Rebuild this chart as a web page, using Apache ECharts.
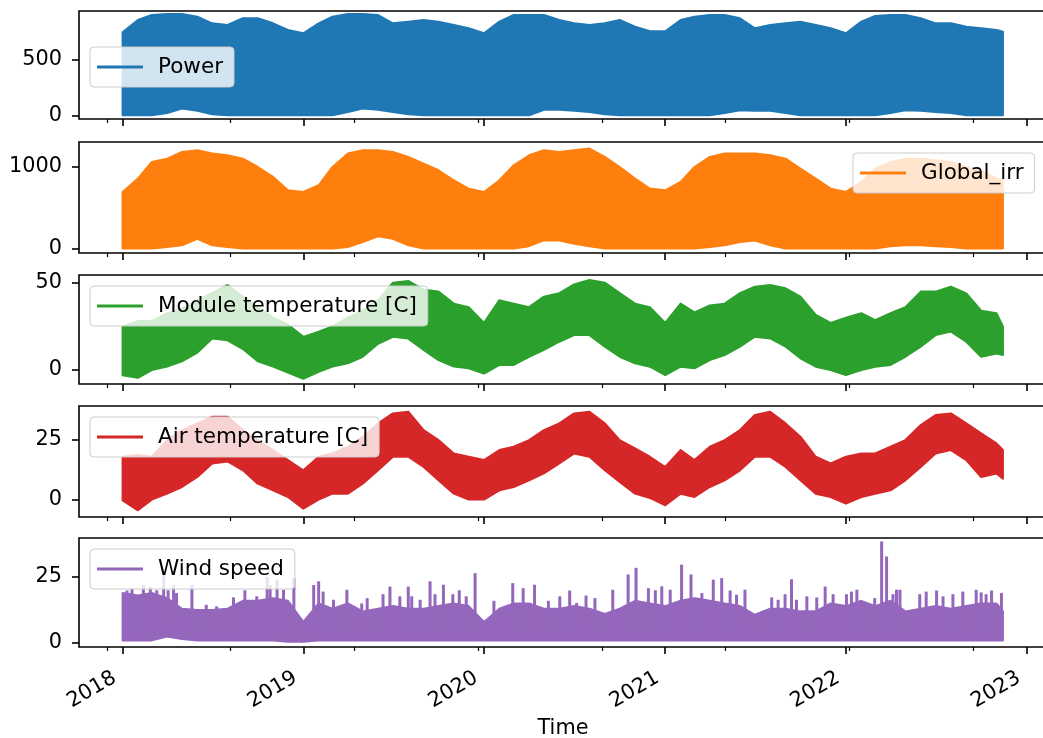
<!DOCTYPE html>
<html><head><meta charset="utf-8">
<script src="https://cdn.jsdelivr.net/npm/echarts@6/dist/echarts.min.js"></script>
<style>html,body{margin:0;padding:0;background:#fff}#c{width:1043px;height:738px}</style>
</head><body><div id="c"></div>
<script>
// ---- sample dates (month starts + last timestamp) ----
const sampleDates = [
 '2018-01-01','2018-02-01','2018-03-01','2018-04-01','2018-05-01','2018-06-01','2018-07-01','2018-08-01','2018-09-01','2018-10-01','2018-11-01','2018-12-01',
 '2019-01-01','2019-02-01','2019-03-01','2019-04-01','2019-05-01','2019-06-01','2019-07-01','2019-08-01','2019-09-01','2019-10-01','2019-11-01','2019-12-01',
 '2020-01-01','2020-02-01','2020-03-01','2020-04-01','2020-05-01','2020-06-01','2020-07-01','2020-08-01','2020-09-01','2020-10-01','2020-11-01','2020-12-01',
 '2021-01-01','2021-02-01','2021-03-01','2021-04-01','2021-05-01','2021-06-01','2021-07-01','2021-08-01','2021-09-01','2021-10-01','2021-11-01','2021-12-01',
 '2022-01-01','2022-02-01','2022-03-01','2022-04-01','2022-05-01','2022-06-01','2022-07-01','2022-08-01','2022-09-01','2022-10-01','2022-11-01','2022-11-14'
];
// ---- envelopes (upper / lower) ----
const powerHi = [740,851,896,904,904,880,821,806,866,866,821,762, 732,821,880,904,904,895,821,836,851,836,806,777, 732,836,895,895,895,851,821,806,821,851,791,750, 750,851,880,895,895,866,777,806,821,836,806,777, 732,836,886,895,895,866,821,821,791,777,761,746];
const powerLo = [0,0,0,20,60,40,10,0,0,0,0,0, 0,0,0,30,60,50,30,10,0,0,0,0, 0,0,0,0,50,50,40,30,10,0,0,0, 0,0,0,0,20,45,40,40,20,0,0,0, 0,0,0,20,45,40,30,20,0,0,0,0];
const irrHi = [694,858,1062,1102,1184,1205,1164,1143,1102,1000,878,715, 694,776,1000,1164,1205,1205,1184,1123,1042,960,837,735, 694,837,1021,1143,1205,1184,1205,1225,1123,1000,858,735, 714,816,1000,1123,1164,1164,1164,1143,1102,980,858,735, 694,816,980,1062,1102,1102,1082,1062,1000,950,860,840];
const irrLo = [0,0,0,20,40,120,40,20,0,0,0,0, 0,0,0,20,80,150,120,40,0,0,0,0, 0,0,0,30,100,100,60,30,0,0,0,0, 0,0,0,20,40,80,100,40,0,0,0,0, 0,0,0,30,40,40,30,20,0,0,0,0];
const modHi = [25,28,28,32.5,35,40,44,48.7,42,36,30,26, 19,22,25,30,34,40,50,51,46,45,38,36, 27,40,38,36,42,44,49,51.5,50,44,38,36, 27,38,33,37,38,44,47.7,48.7,46.8,42,31.5,27, 30,32.5,28.6,32.5,36,44.9,44.9,47.7,43.9,34,32.5,25];
const modLo = [-3,-4.5,0,2,5,10,18,17,12,5,2,-1.5, -5,-1,2,3.8,7.6,15,19,18,11.5,5.7,2,1, -2,2.9,2.9,7.6,11.5,16.2,20,20,13.4,7.6,3.8,1.9, -2.9,1.9,1,5.7,8.6,13.4,19.1,18.1,13.4,6.7,1.9,0, -2.9,0,1.9,2.9,7.6,13.4,20,22,16.2,7.6,9.5,8.6];
const airHi = [18,18.7,18,25,29.2,32,34.8,34.8,29.2,25,20.8,16.6, 12.3,18,19.4,22.2,26.4,32,36.2,36.9,29.2,25,19.4,18, 16.6,20.8,22.2,25,29.2,32,36.2,36.9,32,25,21.5,18, 13.7,20.8,16.6,22.2,25,29.2,35.5,36.9,32,26.4,18,15.2, 18,19.4,19.4,22.2,25,31.3,35.5,36.2,32,27.8,23.6,20.8];
const airLo = [-0.3,-4.5,0,2.5,5.3,9.5,15.2,16,12.3,6.7,3.9,1.1, -3.8,0,2.5,2.5,6.7,12.3,18,18,13.7,8.1,2.5,0, 0,3.9,5.3,8.1,11,15.2,19.4,18,12.3,7.4,2.5,0.7, -2.4,2.5,1.1,5.3,8.1,12.3,18,18,13.7,8.1,2.5,1.1, -1.7,1.1,2.5,3.9,8.1,13.7,19.4,20.8,16.6,9.5,11,8.8];
const windHi = [19,18,19,17,13,12.5,12.5,13,16,16,17,16, 8,15,13,15,12,13,14,13,13,14,15,14, 8,13,15,15,13,13,14,13,11,13,16,15, 14,16,17,16,15,14,10.7,13,13,12,12,15, 14,16,14,16,12,13,14,13,14,15,15,12];
const windLo = [1,1,1,2.5,1.5,1,1,1,1,1,1,0.5, 0.5,1,1,1,1,1,1,1,1,1,1,1, 1,1,1,1,1,1,1,1,1,1,1,1, 1,1,1,1,1,1,1,1,1,1,1,1, 1,1,1,1,1,1,1,1,1,1,1,1];
// short gusts (spikes) in wind speed
const windSpikeDates = [
 '2018-01-10','2018-01-20','2018-02-12','2018-02-26','2018-03-11','2018-03-25','2018-04-03','2018-04-14','2018-04-20','2018-05-21','2018-06-19','2018-07-10','2018-08-13','2018-09-05','2018-09-29','2018-10-20','2018-10-26','2018-11-09','2018-11-22','2018-12-13',
 '2019-01-22','2019-02-01','2019-02-10','2019-03-03','2019-03-30','2019-04-29','2019-05-10','2019-06-11','2019-06-25','2019-07-15','2019-08-01','2019-08-08','2019-08-25','2019-09-14','2019-09-24','2019-10-11','2019-10-30','2019-11-12','2019-11-26','2019-12-14',
 '2020-01-21','2020-02-28','2020-03-20','2020-04-12','2020-05-10','2020-06-02','2020-06-22','2020-07-06','2020-07-25','2020-08-12','2020-09-17','2020-10-18','2020-11-03','2020-11-28','2020-12-12','2020-12-25',
 '2021-01-11','2021-02-03','2021-02-22','2021-03-16','2021-04-08','2021-04-25','2021-05-12','2021-05-25','2021-06-11','2021-08-04','2021-08-17','2021-08-31','2021-09-13','2021-09-23','2021-10-14','2021-11-03','2021-11-20','2021-12-06',
 '2022-01-02','2022-01-12','2022-01-23','2022-02-28','2022-03-14','2022-03-24','2022-04-06','2022-04-13','2022-04-20','2022-05-30','2022-06-12','2022-07-03','2022-07-16','2022-08-05','2022-08-25','2022-09-21','2022-10-01','2022-10-11','2022-10-22','2022-11-11'];
const windSpikePeaks = [
 19.9,20.5,22,21.4,20,26.5,20,22,18.9,22,14.5,13.9,17.3,20,17.7,25,22,24,20.2,24.6,
 22,23.4,19.5,16.4,20.2,15,17,18.5,21.4,17.7,21.4,17.7,16.4,23.4,18.5,22.1,18.5,20,17.7,26.5,
 16,22.7,20.8,22.1,16,17.7,19.9,15.2,18,17,20.2,26,28.5,20.8,20,21.5,
 20.2,29.7,26,18.9,24,24.6,19.9,18.3,20.2,17.3,16.4,18.5,24.2,16.4,17.7,17.3,21.4,18.5,
 18.5,19.5,20.2,17,38.5,32.8,18.5,20.2,20.2,18.5,19.5,19.9,17.7,18.5,19.5,20.2,19.2,18.5,19.9,19];
// ---- axis ticks ----
const yearTicks = ['2018-01-01','2019-01-01','2020-01-01','2021-01-01','2022-01-01','2023-01-01'];
const minorTicks = ['2017-12-01','2018-08-07','2019-04-14','2019-12-20','2020-08-26','2021-05-03','2022-01-08','2022-09-15'];
const seriesNames = ['Power','Global_irr','Module temperature [C]','Air temperature [C]','Wind speed'];
const yTickValues = [[0,500],[0,1000],[0,50],[0,25],[0,25]];

// ---- helpers ----
function ts(s) { const p = s.split('-').map(Number); return Date.UTC(p[0], p[1] - 1, p[2]); }

// ---- layout / style ----
const FONT = 'DejaVu Sans';
const FS = 20.8;
const COLORS = ['#1f77b4','#ff7f0e','#2ca02c','#d62728','#9467bd'];
const X_MIN = ts('2017-10-05'), X_MAX = ts('2023-02-11');
const layout = [
  {top:11,  height:108, yMin:-33, yMax:931,  legend:{left:90, top:47}},
  {top:142, height:111, yMin:-54, yMax:1306, legend:{left:853, top:153}},
  {top:275, height:109, yMin:-8,  yMax:54.4, legend:{left:90, top:286}},
  {top:406, height:111, yMin:-7.3,yMax:39.3, legend:{left:90, top:417}},
  {top:538, height:109, yMin:-1.5,yMax:39.8, legend:{left:90, top:549}}
];
const bands = [[powerLo,powerHi],[irrLo,irrHi],[modLo,modHi],[airLo,airHi],[windLo,windHi]];
const SPIKE_BASE = 5;
const yearTickTs = yearTicks.map(ts), minorTickTs = minorTicks.map(ts);

const grids = [], xAxes = [], yAxes = [], series = [], legends = [];
layout.forEach((L, i) => {
  grids.push({left:79, width:968, top:L.top, height:L.height, show:true, borderColor:'#000', borderWidth:1.6,
    backgroundColor:'transparent', containLabel:false, outerBoundsMode:'none'});
  const last = i === layout.length - 1;
  xAxes.push({
    type:'value', gridIndex:i, min:X_MIN, max:X_MAX, position:'bottom',
    axisLine:{show:false, onZero:false}, splitLine:{show:false},
    axisTick:{show:true, customValues:yearTickTs, length:7, lineStyle:{color:'#000', width:1.6}},
    axisLabel: last ? {show:true, customValues:yearTickTs, rotate:30, fontSize:FS, color:'#000', fontFamily:FONT,
        margin:25, padding:[0,9,0,0], formatter: v => String(new Date(v).getUTCFullYear())} : {show:false},
    name: last ? 'Time' : '', nameLocation:'middle', nameGap:71,
    nameTextStyle:{fontSize:FS, color:'#000', fontFamily:FONT}
  });
  xAxes.push({
    type:'value', gridIndex:i, min:X_MIN, max:X_MAX, position:'bottom',
    axisLine:{show:false, onZero:false}, splitLine:{show:false}, axisLabel:{show:false},
    axisTick:{show:true, customValues:minorTickTs, length:4, lineStyle:{color:'#000', width:1.2}}
  });
  yAxes.push({
    type:'value', gridIndex:i, min:L.yMin, max:L.yMax,
    axisLine:{show:false, onZero:false}, splitLine:{show:false},
    axisTick:{show:true, customValues:yTickValues[i], length:7, lineStyle:{color:'#000', width:1.6}},
    axisLabel:{show:true, customValues:yTickValues[i], fontSize:FS, color:'#000', fontFamily:FONT, margin:17,
        formatter: v => String(v)}
  });
  const color = COLORS[i];
  const [lo, hi] = bands[i];
  series.push({
    type:'custom', name:seriesNames[i], xAxisIndex:2*i, yAxisIndex:i, clip:true,
    itemStyle:{color:color},
    encode:{x:0, y:[1,2]},
    data: sampleDates.map((d, k) => [ts(d), lo[k], hi[k]]),
    renderItem: (params, api) => {
      if (params.dataIndexInside !== 0) return null;
      const n = params.dataInsideLength;
      const pts = [];
      for (let j = 0; j < n; j++) pts.push(api.coord([api.value(0, j), api.value(2, j)]));
      for (let j = n - 1; j >= 0; j--) pts.push(api.coord([api.value(0, j), api.value(1, j)]));
      return {type:'polygon', shape:{points:pts}, style:{fill:color, stroke:color, lineWidth:2, lineJoin:'round'}};
    }
  });
  legends.push({
    data:[{name:seriesNames[i], icon:'rect', itemStyle:{color:color, borderWidth:0}}],
    left:L.legend.left, top:L.legend.top, orient:'horizontal',
    itemWidth:46, itemHeight:3, padding:[9,11,9,7],
    backgroundColor:'rgba(255,255,255,0.8)', borderColor:'#cccccc', borderWidth:1, borderRadius:4,
    selectedMode:false,
    textStyle:{fontSize:21.5, color:'#000', fontFamily:FONT, padding:[0,0,0,10]}
  });
});
// wind gust spikes
series.push({
  type:'custom', name:'Wind speed', xAxisIndex:8, yAxisIndex:4, clip:true,
  itemStyle:{color:COLORS[4]},
  encode:{x:0, y:1},
  data: windSpikeDates.map((d, k) => [ts(d), windSpikePeaks[k]]),
  renderItem: (params, api) => {
    const p1 = api.coord([api.value(0), SPIKE_BASE]);
    const p2 = api.coord([api.value(0), api.value(1)]);
    return {type:'line', shape:{x1:p1[0], y1:p1[1], x2:p2[0], y2:p2[1]}, style:{stroke:COLORS[4], lineWidth:3}};
  }
});

const chart = echarts.init(document.getElementById('c'), null, {renderer:'canvas'});
chart.setOption({
  animation:false,
  backgroundColor:'#ffffff',
  textStyle:{fontFamily:FONT},
  grid:grids, xAxis:xAxes, yAxis:yAxes, series:series, legend:legends
});
</script></body></html>
